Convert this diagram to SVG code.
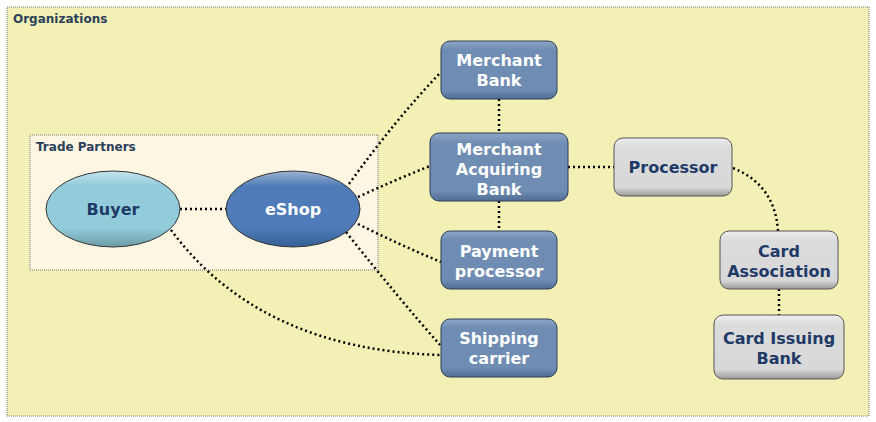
<svg xmlns="http://www.w3.org/2000/svg" width="876" height="422" viewBox="0 0 876 422">
<defs>
<linearGradient id="bl" x1="0" y1="0" x2="0" y2="1"><stop offset="0" stop-color="#8fa6c4"/><stop offset="0.15" stop-color="#6f8db3"/><stop offset="0.85" stop-color="#6f8db3"/><stop offset="1" stop-color="#4f6d92"/></linearGradient>
<linearGradient id="gr" x1="0" y1="0" x2="0" y2="1"><stop offset="0" stop-color="#eeeeee"/><stop offset="0.15" stop-color="#dcdcdc"/><stop offset="0.85" stop-color="#d8d8d8"/><stop offset="1" stop-color="#9a9a9a"/></linearGradient>
<linearGradient id="by" x1="0" y1="0" x2="0" y2="1"><stop offset="0" stop-color="#c4e3ec"/><stop offset="0.2" stop-color="#92ccdb"/><stop offset="0.75" stop-color="#92ccdb"/><stop offset="1" stop-color="#6c9ca5"/></linearGradient>
<linearGradient id="es" x1="0" y1="0" x2="0" y2="1"><stop offset="0" stop-color="#9fb3d3"/><stop offset="0.2" stop-color="#4f7cb8"/><stop offset="0.75" stop-color="#4f7cb8"/><stop offset="1" stop-color="#355f95"/></linearGradient>
</defs>
<style>
.c{fill:none;stroke:#000;stroke-width:2.5;stroke-dasharray:2 3}
.t{font-family:"DejaVu Sans",Verdana,sans-serif;font-weight:bold;font-size:16px;text-anchor:middle}
.w{fill:#fff}.d{fill:#1f3a66}
.b{fill:url(#bl);stroke:#2d3f55;stroke-width:1}
.g{fill:url(#gr);stroke:#555;stroke-width:1}
</style>
<rect x="0" y="0" width="876" height="422" fill="#fff"/>
<rect id="organizations" x="7" y="7" width="862" height="409" fill="#f2f0b4" stroke="#777" stroke-dasharray="1 1"/>
<text x="13" y="23" font-family="DejaVu Sans,Verdana,sans-serif" font-weight="bold" font-size="12" fill="#2b3f5a">Organizations</text>
<rect id="trade-partners" x="30" y="135" width="348" height="135" fill="#fdf6e3" stroke="#777" stroke-dasharray="1 1"/>
<text x="36" y="151" font-family="DejaVu Sans,Verdana,sans-serif" font-weight="bold" font-size="12" fill="#2b3f5a">Trade Partners</text>
<g id="connectors">
<line class="c" x1="180" y1="209" x2="226" y2="209"/>
<path class="c" d="M349 184 Q395 120 441 72"/>
<path class="c" d="M358 197 Q395 180 430 166"/>
<path class="c" d="M358 224 Q400 245 441 262"/>
<path class="c" d="M346 232 Q400 300 441 346"/>
<path class="c" d="M171 230 Q260 350 441 355"/>
<line class="c" x1="499" y1="99" x2="499" y2="133"/>
<line class="c" x1="499" y1="201" x2="499" y2="231"/>
<line class="c" x1="568" y1="167" x2="614" y2="167"/>
<path class="c" d="M733 168 Q775 185 778 231"/>
<line class="c" x1="779" y1="289" x2="779" y2="315"/>
</g>
<g id="buyer"><ellipse cx="113" cy="209" rx="67" ry="38" fill="url(#by)" stroke="#333"/><text class="t d" x="113" y="215">Buyer</text></g>
<g id="eshop"><ellipse cx="293" cy="209" rx="67" ry="38" fill="url(#es)" stroke="#333"/><text class="t w" x="293" y="215">eShop</text></g>
<g id="merchant-bank"><rect class="b" x="441" y="41" width="116" height="58" rx="9"/><text class="t w" x="499" y="66">Merchant</text><text class="t w" x="499" y="86">Bank</text></g>
<g id="merchant-acquiring-bank"><rect class="b" x="430" y="133" width="138" height="68" rx="9"/><text class="t w" x="499" y="155">Merchant</text><text class="t w" x="499" y="175">Acquiring</text><text class="t w" x="499" y="195">Bank</text></g>
<g id="payment-processor"><rect class="b" x="441" y="231" width="116" height="58" rx="9"/><text class="t w" x="499" y="257">Payment</text><text class="t w" x="499" y="277">processor</text></g>
<g id="shipping-carrier"><rect class="b" x="441" y="319" width="116" height="58" rx="9"/><text class="t w" x="499" y="344">Shipping</text><text class="t w" x="499" y="364">carrier</text></g>
<g id="processor"><rect class="g" x="614" y="138" width="118" height="58" rx="9"/><text class="t d" x="673" y="173">Processor</text></g>
<g id="card-association"><rect class="g" x="720" y="231" width="118" height="58" rx="9"/><text class="t d" x="779" y="257">Card</text><text class="t d" x="779" y="277">Association</text></g>
<g id="card-issuing-bank"><rect class="g" x="714" y="315" width="130" height="64" rx="9"/><text class="t d" x="779" y="344">Card Issuing</text><text class="t d" x="779" y="364">Bank</text></g>
</svg>
